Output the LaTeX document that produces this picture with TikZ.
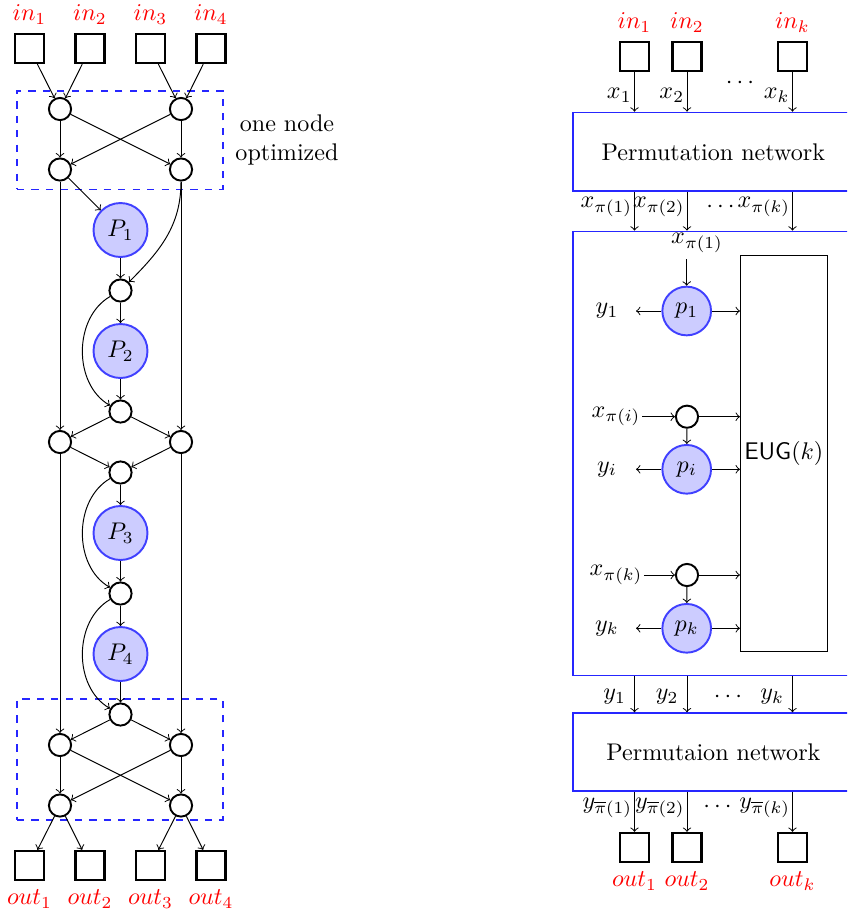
\documentclass[tikz,border=0pt]{standalone}
\usetikzlibrary{calc}
\begin{document}
\begin{tikzpicture}[x=0.415pt,y=-0.415pt,
  sq/.style={draw,line width=0.9pt,minimum size=12.1pt,inner sep=0pt},
  cir/.style={circle,draw,line width=0.8pt,minimum size=9.2pt,inner sep=0pt},
  pc/.style={circle,draw=blue!75,fill=blue!20,line width=0.8pt,minimum size=22.4pt,inner sep=0pt},
  rpc/.style={pc,minimum size=20.2pt},
  redlab/.style={text=red},
  ar/.style={->,line width=0.4pt},
  dashbox/.style={draw=blue!85,dashed,line width=0.45pt},
  bluebox/.style={draw=blue!85,line width=0.7pt,inner sep=0pt,minimum width=116.3pt},
  lab/.style={inner sep=0.6pt,anchor=east}
]
\useasboundingbox (0,0) rectangle (847,914);
\clip (0,0) rectangle (847,914);

% ---------------- left diagram ----------------
\node[dashbox,minimum width=85.5pt,minimum height=40.7pt,inner sep=0pt] (dtop) at (120,140) {};
\node[dashbox,minimum width=85.5pt,minimum height=50.2pt,inner sep=0pt] (dbot) at (120,759.5) {};
\node[align=center] (opt) at (287,140) {one node\\optimized};

\foreach \i/\x in {1/29.5,2/90,3/150.5,4/211}{
  \node[sq] (in\i) at (\x,48.5) {};
  \node[redlab,above] (inl\i) at (in\i.north) {$in_\i$};
  \node[sq] (out\i) at (\x,865.5) {};
  \node[redlab,below] (outl\i) at (out\i.south) {$out_\i$};
}

\node[cir] (c11) at (60,109) {};
\node[cir] (c12) at (181,109) {};
\node[cir] (c21) at (60,169.5) {};
\node[cir] (c22) at (181,169.5) {};
\node[pc] (P1) at (120.5,230) {$P_1$};
\node[cir] (s1) at (120.5,290.5) {};
\node[pc] (P2) at (120.5,351) {$P_2$};
\node[cir] (s2) at (120.5,411.5) {};
\node[cir] (L1) at (60,442) {};
\node[cir] (R1) at (181,442) {};
\node[cir] (s3) at (120.5,472.5) {};
\node[pc] (P3) at (120.5,533) {$P_3$};
\node[cir] (s4) at (120.5,593.5) {};
\node[pc] (P4) at (120.5,654) {$P_4$};
\node[cir] (s5) at (120.5,714.5) {};
\node[cir] (L2) at (60,745) {};
\node[cir] (R2) at (181,745) {};
\node[cir] (B1) at (60,805.5) {};
\node[cir] (B2) at (181,805.5) {};

\draw[ar] (in1) -- (c11);
\draw[ar] (in2) -- (c11);
\draw[ar] (in3) -- (c12);
\draw[ar] (in4) -- (c12);
\draw[ar] (c11) -- (c21);
\draw[ar] (c11) -- (c22);
\draw[ar] (c12) -- (c21);
\draw[ar] (c12) -- (c22);
\draw[ar] (c21) -- (P1);
\draw[ar] (c22) to[out=-90,in=45] (s1);
\draw[ar] (c21) -- (L1);
\draw[ar] (c22) -- (R1);
\draw[ar] (P1) -- (s1);
\draw[ar] (s1) -- (P2);
\draw[ar] (s1) to[out=210,in=150] (s2);
\draw[ar] (P2) -- (s2);
\draw[ar] (s2) -- (L1);
\draw[ar] (s2) -- (R1);
\draw[ar] (L1) -- (s3);
\draw[ar] (R1) -- (s3);
\draw[ar] (s3) -- (P3);
\draw[ar] (s3) to[out=210,in=150] (s4);
\draw[ar] (P3) -- (s4);
\draw[ar] (s4) -- (P4);
\draw[ar] (s4) to[out=210,in=150] (s5);
\draw[ar] (P4) -- (s5);
\draw[ar] (L1) -- (L2);
\draw[ar] (R1) -- (R2);
\draw[ar] (s5) -- (L2);
\draw[ar] (s5) -- (R2);
\draw[ar] (L2) -- (B1);
\draw[ar] (L2) -- (B2);
\draw[ar] (R2) -- (B1);
\draw[ar] (R2) -- (B2);
\draw[ar] (B1) -- (out1);
\draw[ar] (B1) -- (out2);
\draw[ar] (B2) -- (out3);
\draw[ar] (B2) -- (out4);

% ---------------- right diagram ----------------
\node[sq] (rin1) at (634.5,56.7) {};
\node[sq] (rin2) at (687,56.7) {};
\node[sq] (rink) at (792.5,56.7) {};
\node[redlab,above] (rinl1) at (rin1.north) {$in_1$};
\node[redlab,above] (rinl2) at (rin2.north) {$in_2$};
\node[redlab,above] (rinlk) at (rink.north) {$in_k$};
\node (dots1) at (740,83) {$\cdots$};

\node[bluebox,minimum height=32.7pt] (pn1) at (713.4,151.9) {Permutation network};
\node[bluebox,minimum height=184.3pt] (outer) at (713.4,453.5) {};
\node[bluebox,minimum height=32.4pt] (pn2) at (713.4,752.2) {Permutaion network};

\draw[ar] (rin1) -- (rin1 |- pn1.north);
\draw[ar] (rin2) -- (rin2 |- pn1.north);
\draw[ar] (rink) -- (rink |- pn1.north);
\node[lab] (x1) at (633.5,95) {$x_1$};
\node[lab] (x2) at (686,95) {$x_2$};
\node[lab] (xk) at (791.5,95) {$x_k$};

\draw[ar] (rin1 |- pn1.south) -- (rin1 |- outer.north);
\draw[ar] (rin2 |- pn1.south) -- (rin2 |- outer.north);
\draw[ar] (rink |- pn1.south) -- (rink |- outer.north);
\node[lab] (xp1) at (634,207) {$x_{\pi(1)}$};
\node[lab] (xp2) at (686.5,207) {$x_{\pi(2)}$};
\node[lab] (xpk) at (792,207) {$x_{\pi(k)}$};
\node (dots2) at (720.5,207) {$\cdots$};

\node[draw,line width=0.4pt,minimum width=36pt,minimum height=164.2pt,inner sep=0pt] (eug) at (783.8,453.3) {\textsf{EUG}$(k)$};

\node (xin1) at (697,243) {$x_{\pi(1)}$};
\coordinate (xin1s) at (686.7,259);
\node[rpc] (p1) at (686.7,311) {$p_1$};
\node (y1) at (607,311) {$y_1$};
\coordinate (y1e) at (636,311);
\draw[ar] (xin1s) -- (p1);
\draw[ar] (p1) -- (y1e);
\draw[ar] (p1) -- (p1 -| eug.west);

\node[inner sep=0.5pt] (xi) at (616,416.7) {$x_{\pi(i)}$};
\node[cir] (ci) at (687,416.7) {};
\node[rpc] (pi) at (686.7,469.3) {$p_i$};
\node (yi) at (607,469.3) {$y_i$};
\coordinate (yie) at (636,469.3);
\draw[ar] (xi) -- (ci);
\draw[ar] (ci) -- (ci -| eug.west);
\draw[ar] (ci) -- (pi);
\draw[ar] (pi) -- (yie);
\draw[ar] (pi) -- (pi -| eug.west);

\node[inner sep=0.5pt] (xk2) at (616,575) {$x_{\pi(k)}$};
\node[cir] (ck) at (687,575) {};
\node[rpc] (pk) at (686.7,628.3) {$p_k$};
\node (yk) at (607,628.3) {$y_k$};
\coordinate (yke) at (636,628.3);
\draw[ar] (xk2) -- (ck);
\draw[ar] (ck) -- (ck -| eug.west);
\draw[ar] (ck) -- (pk);
\draw[ar] (pk) -- (yke);
\draw[ar] (pk) -- (pk -| eug.west);

\draw[ar] (rin1 |- outer.south) -- (rin1 |- pn2.north);
\draw[ar] (rin2 |- outer.south) -- (rin2 |- pn2.north);
\draw[ar] (rink |- outer.south) -- (rink |- pn2.north);
\node[anchor=east] (yo1) at (634.5,697) {$y_1$};
\node[anchor=east] (yo2) at (687,697) {$y_2$};
\node[anchor=east] (yok) at (792.5,697) {$y_k$};
\node (dots3) at (728,697) {$\cdots$};

\node[sq] (rout1) at (634.5,847.5) {};
\node[sq] (rout2) at (687,847.5) {};
\node[sq] (routk) at (792.5,847.5) {};
\draw[ar] (rin1 |- pn2.south) -- (rout1);
\draw[ar] (rin2 |- pn2.south) -- (rout2);
\draw[ar] (rink |- pn2.south) -- (routk);
\node[lab] (yb1) at (634,808) {$y_{\overline{\pi}(1)}$};
\node[lab] (yb2) at (686.5,808) {$y_{\overline{\pi}(2)}$};
\node[lab] (ybk) at (792,808) {$y_{\overline{\pi}(k)}$};
\node (dots4) at (717.5,807) {$\cdots$};
\node[redlab,below] (routl1) at (rout1.south) {$out_1$};
\node[redlab,below] (routl2) at (rout2.south) {$out_2$};
\node[redlab,below] (routlk) at (routk.south) {$out_k$};
\end{tikzpicture}
\end{document}
